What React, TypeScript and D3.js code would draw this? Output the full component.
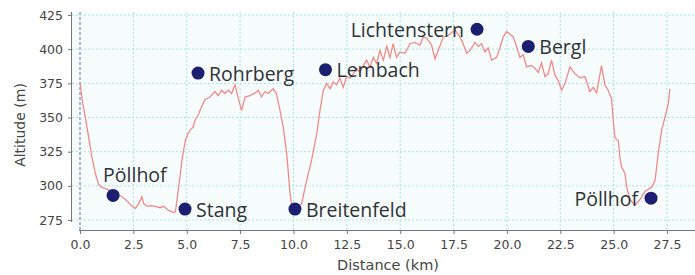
import React, { useEffect, useRef } from 'react'
import * as d3 from 'd3'

// elevation profile
const profileKm = [
  0.0, 0.1, 0.25, 0.4, 0.56, 0.72, 0.87, 1.0, 1.19, 1.5, 1.75, 1.97, 2.2, 2.44, 2.6, 2.75, 2.9, 2.98, 3.14,
  3.35, 3.53, 3.75, 3.92, 4.15, 4.39, 4.47, 4.62, 4.78, 4.93, 5.05, 5.17, 5.3, 5.39, 5.54, 5.7, 5.85, 6.09,
  6.32, 6.48, 6.64, 6.79, 6.95, 7.1, 7.26, 7.42, 7.57, 7.73, 7.96, 8.2, 8.35, 8.5, 8.66, 8.82, 9.05, 9.2,
  9.37, 9.52, 9.68, 9.84, 9.91, 10.07, 10.2, 10.38, 10.62, 10.85, 11.09, 11.24, 11.4, 11.56, 11.71, 11.86,
  12.02, 12.18, 12.33, 12.49, 12.65, 12.8, 12.96, 13.11, 13.27, 13.43, 13.58, 13.74, 13.9, 14.05, 14.21,
  14.37, 14.52, 14.67, 14.83, 14.99, 15.22, 15.46, 15.69, 15.93, 16.08, 16.24, 16.47, 16.63, 16.78, 17.02,
  17.25, 17.4, 17.56, 17.8, 17.95, 18.11, 18.27, 18.5, 18.66, 18.81, 18.97, 19.12, 19.28, 19.52, 19.67,
  19.83, 19.98, 20.14, 20.3, 20.45, 20.61, 20.76, 20.92, 21.15, 21.31, 21.47, 21.62, 21.78, 21.93, 22.09,
  22.25, 22.4, 22.56, 22.72, 22.95, 23.19, 23.42, 23.65, 23.89, 24.04, 24.2, 24.43, 24.59, 24.74, 24.9,
  24.98, 25.06, 25.22, 25.29, 25.37, 25.53, 25.61, 25.76, 26.0, 26.23, 26.47, 26.78, 26.94, 27.09, 27.25,
  27.4, 27.56, 27.63
]
const profileAlt = [
  376, 363, 350, 336, 321, 309, 301, 299, 298, 296, 294, 292, 289, 285, 283.5, 287, 292, 287, 285,
  285.5, 285, 284, 285, 282, 280.5, 281, 299, 319, 333, 338, 341, 343, 348, 352, 358, 363, 365,
  369, 366, 370, 367.6, 370, 367.6, 374, 364, 355, 365, 366, 368, 370, 365, 369, 367.6, 371, 367.6,
  355, 343, 324, 294.5, 287, 285, 284, 287, 304, 319, 338, 355, 370, 375, 371, 376,
  374, 379, 372, 380, 379, 382, 386, 383, 388, 392, 387, 394, 389.5, 399, 392,
  402, 394, 404, 394, 398, 397, 404, 405, 403, 409, 408, 403, 393, 399, 409,
  410, 412, 414, 409, 404, 397, 399, 405, 402, 404, 398, 401, 392, 394, 401,
  409, 413, 411, 409, 402, 394, 396, 387, 388, 386, 383, 390, 380, 382, 392,
  381, 377, 370, 375, 387, 382, 379, 380, 369, 372, 368, 388, 374, 370, 364,
  348, 335, 333, 321, 314, 309, 299, 290, 286, 290, 296, 299, 304, 324, 341,
  350, 360, 371
]

// named places along the route
const placeNames = ['Pöllhof', 'Stang', 'Rohrberg', 'Breitenfeld', 'Lembach', 'Lichtenstern', 'Bergl', 'Pöllhof']
const placeKm = [1.55, 4.92, 5.53, 10.07, 11.5, 18.6, 21.0, 26.75]
const placeAlt = [293, 283, 382.5, 283, 385, 414.6, 402, 291]

const xTicks = [0, 2.5, 5, 7.5, 10, 12.5, 15, 17.5, 20, 22.5, 25, 27.5]
const yTicks = [275, 300, 325, 350, 375, 400, 425]

const W = 695
const H = 275

export default function App() {
  const ref = useRef<SVGSVGElement>(null)

  useEffect(() => {
    const svg = d3.select(ref.current)
    svg.selectAll('*').remove()

    const left = 72
    const right = 695
    const top = 12
    const bottom = 230

    const x = d3.scaleLinear().domain([-0.375, 28.81]).range([left, right])
    const y = d3.scaleLinear().domain([267.7, 427.2]).range([bottom, top])

    // plot background
    svg
      .append('rect')
      .attr('x', left)
      .attr('y', top)
      .attr('width', right - left)
      .attr('height', bottom - top)
      .attr('fill', '#f7fdfd')

    // grid
    svg
      .append('g')
      .selectAll('line')
      .data(xTicks)
      .enter()
      .append('line')
      .attr('x1', (d) => x(d))
      .attr('x2', (d) => x(d))
      .attr('y1', top)
      .attr('y2', bottom)
      .attr('stroke', (d) => (d === 0 ? '#5a6fb8' : '#a8e4e4'))
      .attr('stroke-width', 1)
      .attr('stroke-dasharray', (d) => (d === 0 ? '3,2' : '2,2'))

    svg
      .append('g')
      .selectAll('line')
      .data(yTicks)
      .enter()
      .append('line')
      .attr('x1', left)
      .attr('x2', right)
      .attr('y1', (d) => y(d))
      .attr('y2', (d) => y(d))
      .attr('stroke', '#a8e4e4')
      .attr('stroke-width', 1)
      .attr('stroke-dasharray', '2,2')

    // axes
    const xAxis = svg
      .append('g')
      .attr('transform', `translate(0,${bottom})`)
      .call(
        d3
          .axisBottom(x)
          .tickValues(xTicks)
          .tickFormat(d3.format('.1f'))
          .tickSize(4)
          .tickPadding(6)
      )
    xAxis.select('.domain').attr('d', `M${x(0) - 1},0.5H${right}`).attr('stroke', '#777')

    const yAxis = svg
      .append('g')
      .attr('transform', `translate(${left},0)`)
      .call(d3.axisLeft(y).tickValues(yTicks).tickSize(4).tickPadding(5))
    yAxis.select('.domain').attr('d', `M-0.5,${top}V${y(275) + 2}`).attr('stroke', '#777')

    svg
      .selectAll('.tick line')
      .attr('stroke', '#777')
    svg
      .selectAll('.tick text')
      .attr('fill', '#444')
      .style('font-family', 'DejaVu Sans')
      .style('font-size', '12.5px')

    // profile line
    const points: [number, number][] = profileKm.map((k, i) => [k, profileAlt[i]])
    svg
      .append('path')
      .datum(points)
      .attr('fill', 'none')
      .attr('stroke', '#f08a8a')
      .attr('stroke-width', 1.3)
      .attr('d', d3.line<[number, number]>().x((d) => x(d[0])).y((d) => y(d[1])))

    // places
    const places = placeNames.map((n, i) => ({ name: n, km: placeKm[i], alt: placeAlt[i], i }))
    svg
      .selectAll('.place')
      .data(places)
      .enter()
      .append('circle')
      .attr('class', 'place')
      .attr('cx', (d) => x(d.km))
      .attr('cy', (d) => y(d.alt))
      .attr('r', 6.5)
      .attr('fill', '#1c1f70')

    svg
      .selectAll('.place-label')
      .data(places)
      .enter()
      .append('text')
      .attr('class', 'place-label')
      .text((d) => d.name)
      .attr('x', (d) => {
        const cx = x(d.km)
        if (d.i === 0) return cx - 10
        if (d.name === 'Lichtenstern' || d.i === 7) return cx - 13
        return cx + 11
      })
      .attr('y', (d) => {
        const cy = y(d.alt)
        if (d.i === 0) return cy - 13
        return cy + 7.5
      })
      .attr('text-anchor', (d) => (d.name === 'Lichtenstern' || d.i === 7 ? 'end' : 'start'))
      .attr('fill', '#2e3238')
      .style('font-family', 'Open Sans')
      .style('font-size', '19.5px')

    // axis titles
    svg
      .append('text')
      .text('Distance (km)')
      .attr('x', 388)
      .attr('y', 270)
      .attr('text-anchor', 'middle')
      .attr('fill', '#444')
      .style('font-family', 'DejaVu Sans')
      .style('font-size', '14.5px')

    svg
      .append('text')
      .text('Altitude (m)')
      .attr('transform', 'translate(25,125) rotate(-90)')
      .attr('text-anchor', 'middle')
      .attr('fill', '#444')
      .style('font-family', 'DejaVu Sans')
      .style('font-size', '14px')
  }, [])

  return (
    <svg
      ref={ref}
      width={W}
      height={H}
      style={{ position: 'absolute', left: 0, top: 0, background: '#fff' }}
    />
  )
}
